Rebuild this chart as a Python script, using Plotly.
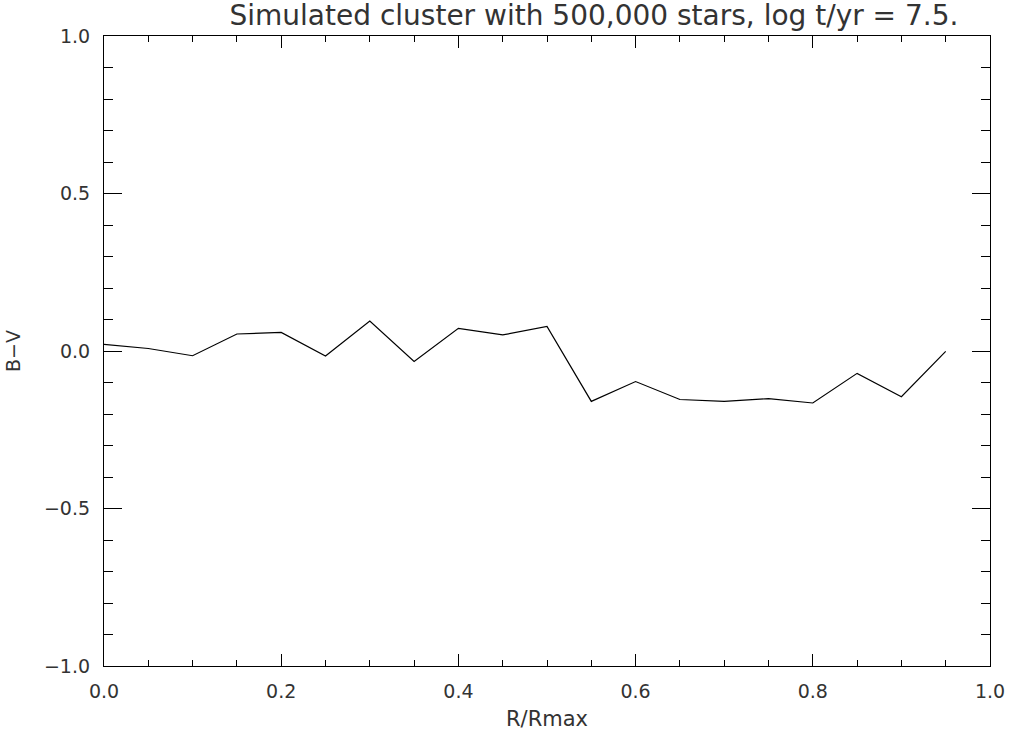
import plotly.graph_objects as go

r_rmax = [0.00, 0.05, 0.10, 0.15, 0.20, 0.25, 0.30, 0.35, 0.40, 0.45,
          0.50, 0.55, 0.60, 0.65, 0.70, 0.75, 0.80, 0.85, 0.90, 0.95]
b_minus_v = [0.021, 0.008, -0.015, 0.054, 0.059, -0.016, 0.095, -0.033, 0.072, 0.051,
             0.078, -0.160, -0.097, -0.154, -0.160, -0.151, -0.165, -0.071, -0.145, -0.001]

x_ticks = [0.0, 0.2, 0.4, 0.6, 0.8, 1.0]
x_labels = ["0.0", "0.2", "0.4", "0.6", "0.8", "1.0"]
y_ticks = [-1.0, -0.5, 0.0, 0.5, 1.0]
y_labels = ["\u22121.0", "\u22120.5", "0.0", "0.5", "1.0"]

title = "Simulated cluster with 500,000 stars, log t/yr = 7.5."

font_family = "DejaVu Sans"
fc = "#333333"

fig = go.Figure()
fig.add_trace(go.Scatter(x=r_rmax, y=b_minus_v, mode="lines",
                         line=dict(color="black", width=1.2), showlegend=False))

fig.update_layout(
    width=1011, height=736,
    margin=dict(l=104, r=21, t=36, b=70, autoexpand=False),
    paper_bgcolor="white", plot_bgcolor="white",
    title=dict(text=title, xref="container", x=0.5875, xanchor="center",
               yref="container", y=1 - 15 / 736, yanchor="middle",
               font=dict(family=font_family, size=28, color=fc)),
    font=dict(family=font_family, color=fc),
)
fig.update_xaxes(
    range=[0, 1], tickvals=x_ticks, ticktext=x_labels, automargin=False,
    ticks="inside", ticklen=12, tickwidth=1, tickcolor="black",
    minor=dict(dtick=0.05, ticks="inside", ticklen=6, tickwidth=1, tickcolor="black"),
    showline=True, linecolor="black", linewidth=1.2, mirror="allticks",
    showgrid=False, zeroline=False, ticklabelstandoff=8,
    tickfont=dict(size=19, color=fc),
    title=dict(text="R/Rmax", font=dict(size=21, color=fc), standoff=10),
)
fig.update_yaxes(
    range=[-1, 1], tickvals=y_ticks, ticktext=y_labels, automargin=False,
    ticks="inside", ticklen=18, tickwidth=1, tickcolor="black",
    minor=dict(dtick=0.1, ticks="inside", ticklen=9, tickwidth=1, tickcolor="black"),
    showline=True, linecolor="black", linewidth=1.2, mirror="allticks",
    showgrid=False, zeroline=False, ticklabelstandoff=9,
    tickfont=dict(size=19, color=fc),
    title=dict(text="B\u2212V", font=dict(size=19, color=fc), standoff=18),
)

fig.write_html("out.html")
